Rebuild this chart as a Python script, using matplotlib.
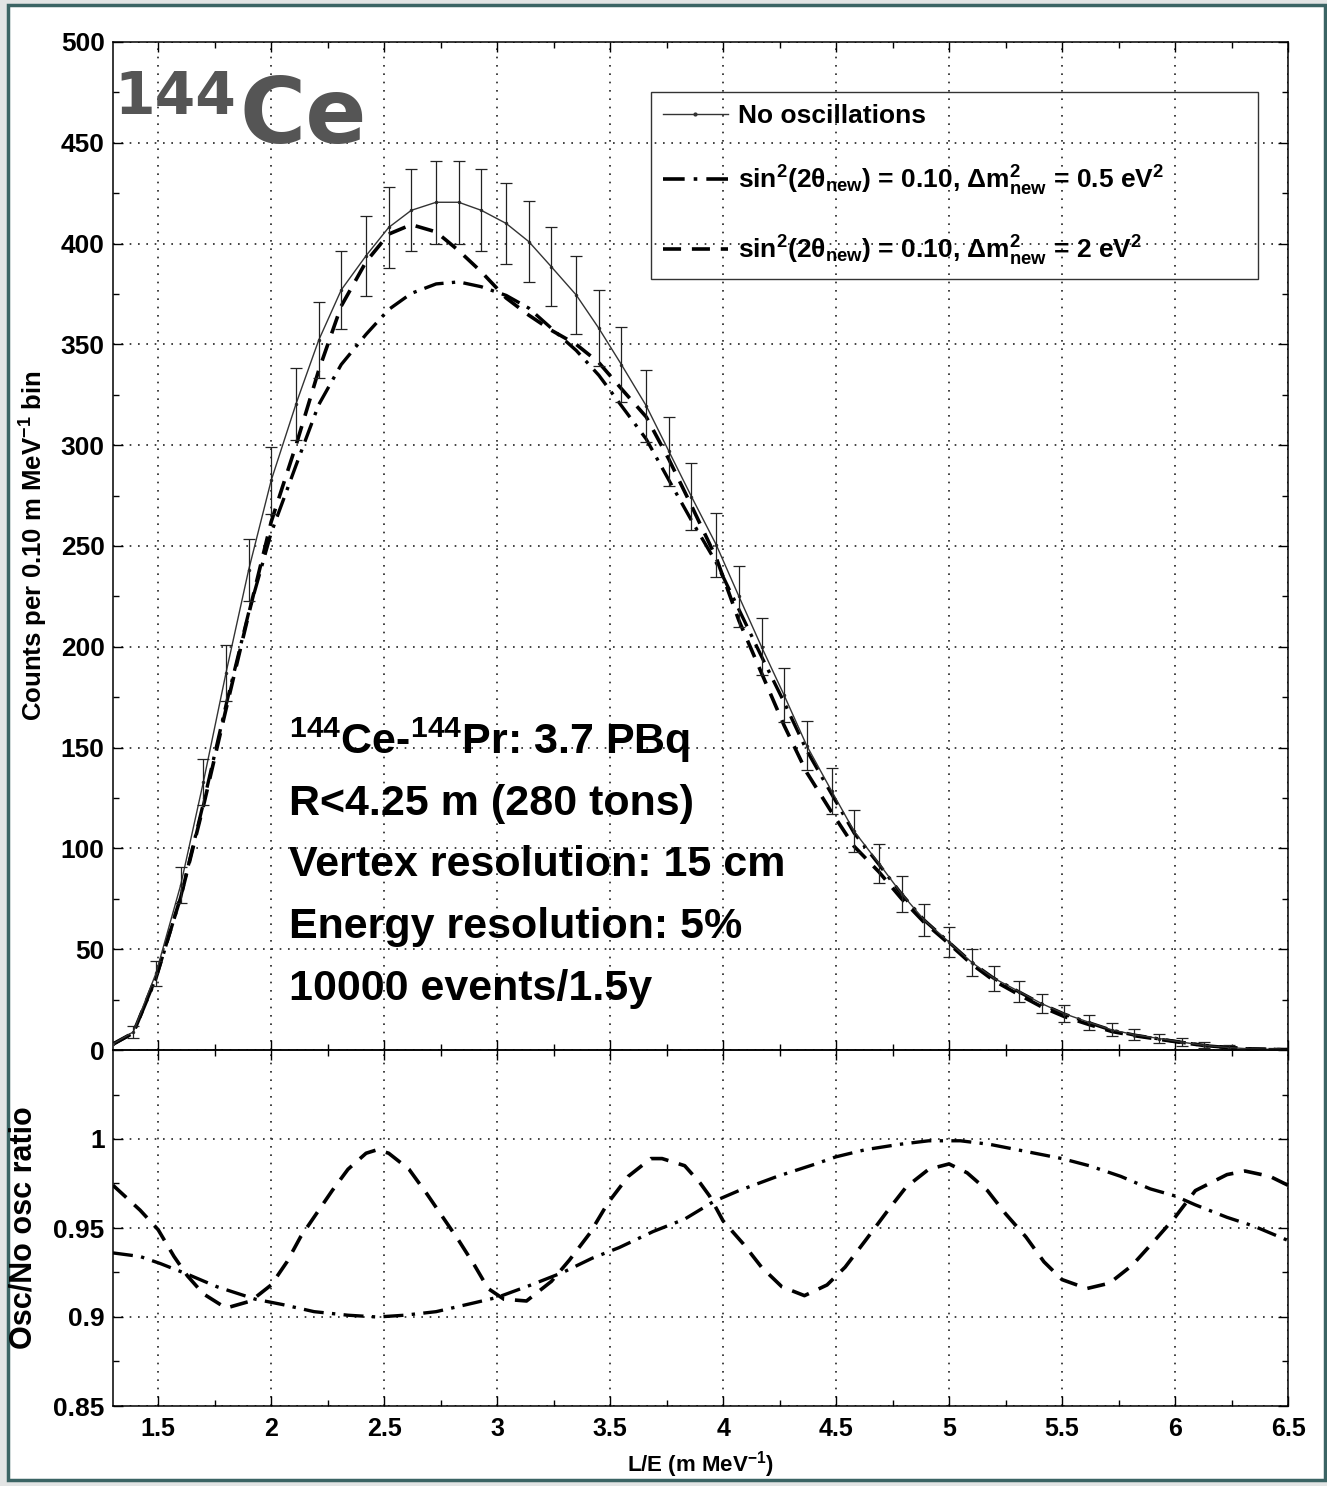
import numpy as np
import matplotlib
matplotlib.use('Agg')
import matplotlib.pyplot as plt
from matplotlib.lines import Line2D
from matplotlib.patches import Rectangle
from matplotlib.ticker import MultipleLocator, FixedLocator

plt.rcParams['font.family'] = ['Liberation Sans', 'DejaVu Sans']
plt.rcParams['font.weight'] = 'bold'
plt.rcParams['mathtext.fontset'] = 'custom'
plt.rcParams['mathtext.rm'] = 'Liberation Sans:bold'
plt.rcParams['mathtext.bf'] = 'Liberation Sans:bold'
plt.rcParams['mathtext.it'] = 'Liberation Sans:bold'
plt.rcParams['mathtext.default'] = 'bf'

# ---------------- data ----------------
le_bins = [1.30, 1.39, 1.49, 1.60, 1.70, 1.80, 1.90, 2.00, 2.11, 2.21,
           2.31, 2.42, 2.52, 2.62, 2.73, 2.83, 2.93, 3.04, 3.14, 3.24,
           3.35, 3.45, 3.55, 3.66, 3.76, 3.86, 3.97, 4.07, 4.17, 4.27,
           4.37, 4.48, 4.58, 4.69, 4.79, 4.89, 5.00, 5.10, 5.20, 5.31,
           5.41, 5.51, 5.62, 5.72, 5.82, 5.93, 6.03, 6.13, 6.24, 6.34,
           6.44, 6.50]

counts_no_osc = [3, 9, 38, 82, 133, 187, 238, 282.5, 320.5, 352,
                 377, 394, 408, 416.5, 420.5, 420.5, 416.5, 410, 401, 388.5,
                 374.5, 358, 340, 319.5, 297, 274.5, 250.5, 225, 200, 176,
                 151, 128.5, 108.5, 92.5, 77.5, 64.5, 53.5, 43.5, 35.5, 29,
                 23, 18, 13.7, 10, 7.6, 5.7, 3.9, 2.3, 1.2, 0.5,
                 0.3, 0.2]

count_errors = [0, 3, 6.2, 9, 11.5, 13.7, 15.4, 16.8, 17.9, 18.8,
                19.4, 19.8, 20.2, 20.4, 20.5, 20.5, 20.4, 20.2, 20.0, 19.7,
                19.4, 18.9, 18.4, 17.9, 17.2, 16.6, 15.8, 15.0, 14.1, 13.3,
                12.3, 11.3, 10.4, 9.6, 8.8, 8.0, 7.3, 6.6, 6.0, 5.4,
                4.8, 4.2, 3.7, 3.2, 2.8, 2.4, 2.0, 1.5, 1.1, 0.7,
                0.5, 0]

counts_dm2_05 = [2.8, 8.4, 35.4, 76, 122.4, 171, 216.8, 256.5, 290, 320,
                 340, 355, 367.3, 375.3, 380, 381, 378.6, 374.3, 368, 358,
                 347, 334.7, 319.6, 303, 282.7, 262.7, 241.7, 218.5, 195.2, 172.5,
                 148.6, 127, 107.6, 92, 77.3, 64.4, 53.4, 43.4, 35.4, 28.8,
                 22.8, 17.8, 13.5, 9.8, 7.4, 5.5, 3.8, 2.2, 1.15, 0.48,
                 0.28, 0.19]

counts_dm2_2 = [3, 8.5, 36, 76, 121, 169, 216, 262, 300, 337,
                369, 391, 404.7, 409.4, 405.8, 396.5, 386, 373, 364.5, 357,
                350, 341, 328, 314, 293, 270, 244, 213, 187, 161,
                137.7, 118, 101, 88.3, 75, 63.3, 52.7, 42.6, 34.3, 27.4,
                21.4, 16.6, 12.6, 9.2, 7.1, 5.3, 3.7, 2.2, 1.2, 0.5,
                0.3, 0.2]

ratio_dm2_2_x = [1.30, 1.42, 1.50, 1.57, 1.63, 1.70, 1.80, 1.91, 2.00, 2.07,
                 2.13, 2.20, 2.27, 2.34, 2.42, 2.47, 2.52, 2.61, 2.69, 2.76,
                 2.83, 2.90, 2.96, 3.03, 3.13, 3.24, 3.32, 3.41, 3.49, 3.58,
                 3.68, 3.73, 3.83, 3.90, 3.94, 4.00, 4.09, 4.17, 4.26, 4.36,
                 4.46, 4.54, 4.63, 4.73, 4.81, 4.91, 5.00, 5.08, 5.17, 5.25,
                 5.34, 5.42, 5.50, 5.61, 5.71, 5.81, 5.91, 6.00, 6.09, 6.23,
                 6.31, 6.42, 6.50]
ratio_dm2_2 = [0.974, 0.960, 0.949, 0.934, 0.923, 0.913, 0.905, 0.909, 0.918, 0.931,
               0.945, 0.958, 0.971, 0.983, 0.992, 0.994, 0.992, 0.983, 0.969, 0.956,
               0.943, 0.929, 0.916, 0.910, 0.909, 0.920, 0.932, 0.947, 0.964, 0.979,
               0.989, 0.989, 0.985, 0.975, 0.968, 0.954, 0.941, 0.928, 0.917, 0.912,
               0.918, 0.928, 0.943, 0.960, 0.973, 0.983, 0.986, 0.981, 0.971, 0.958,
               0.945, 0.931, 0.921, 0.916, 0.919, 0.929, 0.943, 0.956, 0.971, 0.980,
               0.982, 0.979, 0.974]

ratio_dm2_05_x = [1.30, 1.42, 1.51, 1.63, 1.76, 1.93, 2.05, 2.19, 2.34, 2.47,
                  2.59, 2.73, 2.90, 3.00, 3.15, 3.29, 3.42, 3.54, 3.69, 3.83,
                  3.96, 4.07, 4.24, 4.41, 4.50, 4.63, 4.78, 4.91, 5.05, 5.18,
                  5.34, 5.50, 5.62, 5.76, 5.89, 6.00, 6.09, 6.23, 6.35, 6.50]
ratio_dm2_05 = [0.936, 0.934, 0.930, 0.924, 0.917, 0.910, 0.907, 0.903, 0.901, 0.900,
                0.901, 0.903, 0.908, 0.911, 0.918, 0.925, 0.933, 0.939, 0.948, 0.955,
                0.965, 0.971, 0.979, 0.986, 0.990, 0.994, 0.997, 0.999, 0.999, 0.997,
                0.993, 0.989, 0.985, 0.979, 0.972, 0.968, 0.963, 0.956, 0.951, 0.943]

legend_labels = ["No oscillations",
                 r"sin$^2$(2θ$_{\rm new}$) = 0.10, Δm$^2_{\rm new}$ = 0.5 eV$^2$",
                 r"sin$^2$(2θ$_{\rm new}$) = 0.10, Δm$^2_{\rm new}$ = 2 eV$^2$"]
info_lines = [r"$^{144}$Ce-$^{144}$Pr: 3.7 PBq",
              "R<4.25 m (280 tons)",
              "Vertex resolution: 15 cm",
              "Energy resolution: 5%",
              "10000 events/1.5y"]
top_yticks = [0, 50, 100, 150, 200, 250, 300, 350, 400, 450, 500]
ratio_yticks = [0.85, 0.9, 0.95, 1.0]
ratio_yticklabels = ["0.85", "0.9", "0.95", "1"]
x_ticks = [1.5, 2, 2.5, 3, 3.5, 4, 4.5, 5, 5.5, 6, 6.5]
x_ticklabels = ["1.5", "2", "2.5", "3", "3.5", "4", "4.5", "5", "5.5", "6", "6.5"]

# ---------------- figure ----------------
W, H = 1327, 1486
fig = plt.figure(figsize=(W / 100, H / 100), dpi=100)
fig.patch.set_facecolor('#e2e4e4')
fig.patches.append(Rectangle((8 / W, 1 - 1480 / H), (1325 - 8) / W, (1480 - 5) / H,
                             transform=fig.transFigure, facecolor='white',
                             edgecolor='#3b6464', lw=2.5, zorder=-10))

ax1 = fig.add_axes([113 / W, 1 - 1050 / H, 1175 / W, 1008 / H])
ax2 = fig.add_axes([113 / W, 1 - 1406 / H, 1175 / W, 356 / H])
for ax in (ax1, ax2):
    ax.set_zorder(2)
    ax.patch.set_alpha(0)

dash_style = (0, (5, 3))
dashdot_style = (0, (6, 2.5, 1, 2.5))
grid_style = (0, (1, 4))

x = np.array(le_bins)
y0 = np.array(counts_no_osc)
err = np.array(count_errors)
m = err > 0

ax1.plot(x, counts_dm2_05, color='black', lw=2.4, ls=dashdot_style, zorder=3)
ax1.plot(x, counts_dm2_2, color='black', lw=2.6, ls=dash_style, zorder=3)
ax1.plot(x, y0, color='#333333', lw=1.0, marker='.', ms=3, zorder=4)
ax1.errorbar(x[m], y0[m], yerr=err[m], fmt='none', ecolor='#222222',
             elinewidth=0.9, capsize=4.3, capthick=0.9, zorder=4)

ax2.plot(ratio_dm2_05_x, ratio_dm2_05, color='black', lw=2.4, ls=dashdot_style)
ax2.plot(ratio_dm2_2_x, ratio_dm2_2, color='black', lw=2.6, ls=dash_style)

for ax in (ax1, ax2):
    ax.set_xlim(1.3, 6.5)
    ax.xaxis.set_major_locator(FixedLocator(x_ticks))
    ax.xaxis.set_minor_locator(MultipleLocator(0.25))
    ax.tick_params(which='both', direction='in', top=True, right=True,
                   labelsize=19, width=1.0, pad=6)
    ax.tick_params(which='major', length=7)
    ax.tick_params(which='minor', length=4)
    ax.grid(True, which='major', color='#222222', lw=1.2, ls=grid_style)
    for s in ax.spines.values():
        s.set_linewidth(1.1)

ax1.set_ylim(0, 500)
ax1.set_yticks(top_yticks)
ax1.set_yticklabels([str(v) for v in top_yticks], fontweight='bold')
ax1.yaxis.set_minor_locator(MultipleLocator(25))
ax1.set_xticklabels([])

ax2.set_ylim(0.85, 1.05)
ax2.set_yticks(ratio_yticks)
ax2.set_yticklabels(ratio_yticklabels, fontweight='bold')
ax2.yaxis.set_minor_locator(FixedLocator([0.875, 0.925, 0.975, 1.025]))
ax2.set_xticks(x_ticks)
ax2.set_xticklabels(x_ticklabels, fontweight='bold')
ax2.tick_params(axis='x', pad=8, labelsize=18)

ax1.set_ylabel(r"Counts per 0.10 m MeV$^{\mathbf{-1}}$ bin", fontsize=18.5, fontweight='bold')
ax1.yaxis.set_label_coords(-0.054, 0.5)
ax2.set_ylabel("Osc/No osc ratio", fontsize=22, fontweight='bold')
ax2.yaxis.set_label_coords(-0.063, 0.5)
ax2.set_xlabel(r"L/E (m MeV$^{\mathbf{-1}}$)", fontsize=16, fontweight='bold')
ax2.xaxis.set_label_coords(0.5, -0.12)

# legend
h1 = Line2D([], [], color='#333333', lw=1.0, marker='.', ms=4)
h2 = Line2D([], [], color='black', lw=2.6, ls=dashdot_style)
h3 = Line2D([], [], color='black', lw=2.6, ls=dash_style)
leg = ax1.legend([h1, h2, h3], legend_labels, loc='upper left',
                 bbox_to_anchor=(0.4579, 0.7619, 0.9745 - 0.4579, 0.9504 - 0.7619),
                 mode='expand', borderaxespad=0, fontsize=19, handlelength=2.45,
                 handletextpad=0.38, labelspacing=1.35, borderpad=0.45,
                 fancybox=False, frameon=True)
leg.get_frame().set_edgecolor('black')
leg.get_frame().set_facecolor('none')
leg.get_frame().set_linewidth(1.0)
for t in leg.get_texts():
    t.set_fontweight('bold')

# info text block
baselines = [754, 815, 876, 938, 1000]
for txt, b in zip(info_lines, baselines):
    ax1.text((289 - 113) / 1175, 1 - (b - 42) / 1008, txt, transform=ax1.transAxes,
             fontsize=31, fontweight='bold', va='baseline', ha='left', color='black')

# big isotope title
fig.text(236 / W, 1 - 114 / H, "144", fontsize=42, fontweight='bold',
         family=['DejaVu Sans'], color='#555555', ha='right', va='baseline', zorder=5)
fig.text(240 / W, 1 - 143 / H, "Ce", fontsize=65, fontweight='bold',
         family=['DejaVu Sans'], color='#555555', ha='left', va='baseline', zorder=5)

fig.savefig('out.png', dpi=100, facecolor=fig.get_facecolor())
